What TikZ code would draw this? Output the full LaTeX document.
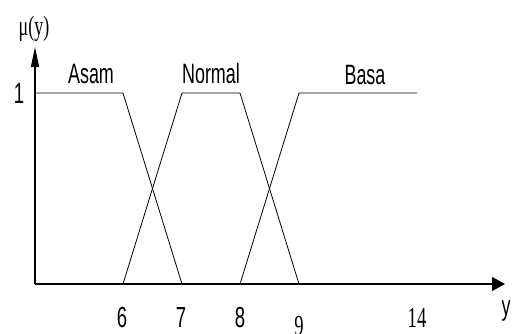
\documentclass[tikz,border=0pt]{standalone}
\usepackage{fontspec}
\usepackage{tikz}
\usetikzlibrary{arrows.meta}
\newfontfamily\narrowsans[FakeStretch=0.64]{Liberation Sans}
\newfontfamily\narrowserif[FakeStretch=0.64]{Liberation Serif}
\tikzstyle{setname} = [inner sep=0pt, anchor=base, font=\narrowsans\fontsize{28}{30}\selectfont]
\tikzstyle{tick} = [inner sep=0pt, anchor=base, font=\narrowsans\fontsize{29}{31}\selectfont]
\tikzstyle{serifnum} = [inner sep=0pt, anchor=base, font=\narrowserif\fontsize{29}{31}\selectfont]
\tikzstyle{member} = [line width=0.8pt, line join=miter]
\tikzstyle{xaxis} = [line width=1.3pt, -{Triangle[length=13pt,width=14pt]}]
\tikzstyle{yaxis} = [line width=1.3pt, -{Triangle[length=20pt,width=8pt]}]

\begin{document}
\begin{tikzpicture}[x=1pt, y=-1pt]
                    \useasboundingbox (0,0) rectangle (515,333);

                    \coordinate (o) at (35,284);
                    \coordinate (xend) at (505,284);
                    \coordinate (yend) at (35,47);

                    \draw[member] (35,93) -- (123,93) -- (182,284);
                    \draw[member] (123,284) -- (182,93) -- (240,93) -- (299,284);
                    \draw[member] (240,284) -- (299,93) -- (417,93);

                    \draw[xaxis] (o) -- (xend);
                    \draw[yaxis] (o) -- (yend);

                    \node (mu) [inner sep=0pt, font=\narrowserif\fontsize{28}{30}\selectfont] at (34,29) {μ(y)};
                    \node (one) [tick] at (19,103) {1};

                    \node (asam) [setname] at (91,83) {Asam};
                    \node (normal) [setname] at (211,83) {Normal};
                    \node (basa) [setname] at (365,84) {Basa};

                    \node (t6) [tick] at (122,327) {6};
                    \node (t7) [tick] at (181,327) {7};
                    \node (t8) [tick] at (240,327) {8};
                    \node (t9) [serifnum] at (299,335) {9};
                    \node (t14) [serifnum] at (417,327) {14};
                    \node (yvar) [setname] at (506,315) {y};
                \end{tikzpicture}
\end{document}
